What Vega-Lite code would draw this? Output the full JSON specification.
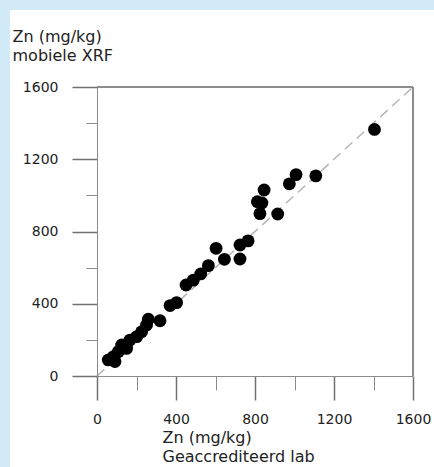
{
  "$schema": "https://vega.github.io/schema/vega-lite/v6.json",
  "width": 316,
  "height": 289,
  "autosize": "none",
  "padding": {"left": 97, "top": 87, "right": 21, "bottom": 91},
  "background": "#d3ebf9",
  "config": {
    "view": {"stroke": null},
    "font": "DejaVu Sans"
  },
  "data": {
    "values": [
      {"lab": 57, "xrf": 89}, {"lab": 91, "xrf": 80}, {"lab": 83, "xrf": 107},
      {"lab": 108, "xrf": 135}, {"lab": 125, "xrf": 172}, {"lab": 150, "xrf": 153},
      {"lab": 167, "xrf": 199}, {"lab": 201, "xrf": 218}, {"lab": 226, "xrf": 245},
      {"lab": 251, "xrf": 282}, {"lab": 260, "xrf": 314}, {"lab": 319, "xrf": 306},
      {"lab": 370, "xrf": 390}, {"lab": 403, "xrf": 406}, {"lab": 451, "xrf": 504},
      {"lab": 488, "xrf": 531}, {"lab": 525, "xrf": 565}, {"lab": 564, "xrf": 611},
      {"lab": 603, "xrf": 707}, {"lab": 645, "xrf": 646}, {"lab": 724, "xrf": 725},
      {"lab": 724, "xrf": 648}, {"lab": 765, "xrf": 748}, {"lab": 812, "xrf": 965},
      {"lab": 835, "xrf": 958}, {"lab": 825, "xrf": 899}, {"lab": 915, "xrf": 897},
      {"lab": 846, "xrf": 1030}, {"lab": 974, "xrf": 1064}, {"lab": 1008, "xrf": 1115},
      {"lab": 1108, "xrf": 1108}, {"lab": 1405, "xrf": 1365}
    ]
  },
  "resolve": {"axis": {"x": "independent", "y": "independent"}},
  "layer": [
    {
      "mark": {"type": "rect", "fill": "white", "clip": false},
      "encoding": {
        "x": {"datum": -440, "type": "quantitative", "scale": {"domain": [0, 1600], "nice": false, "zero": false}, "axis": null},
        "x2": {"datum": 1800},
        "y": {"datum": 2025, "type": "quantitative", "scale": {"domain": [0, 1600], "nice": false, "zero": false}, "axis": null},
        "y2": {"datum": -700}
      }
    },
    {
      "mark": {"type": "rule", "color": "#8c8c8c", "strokeWidth": 1},
      "encoding": {
        "x": {"datum": 1600, "type": "quantitative", "axis": {
            "orient": "bottom", "zindex": 2,
            "values": [200, 600, 1000, 1400],
            "domain": false, "grid": false, "labels": false, "title": null,
            "tickColor": "#8c8c8c", "tickSize": 14
        }},
        "y": {"datum": 0, "type": "quantitative", "axis": {
            "orient": "left", "zindex": 2,
            "values": [200, 600, 1000, 1400],
            "domain": false, "grid": false, "labels": false, "title": null,
            "tickColor": "#8c8c8c", "tickSize": 11
        }},
        "y2": {"datum": 1600}
      }
    },
    {
      "mark": {"type": "rule", "color": "#8c8c8c", "strokeWidth": 1},
      "encoding": {
        "x": {"datum": 0, "type": "quantitative", "axis": {
            "orient": "bottom", "zindex": 2,
            "values": [0, 400, 800, 1200, 1600],
            "domain": false, "grid": false, "labels": false, "title": null,
            "tickColor": "#707070", "tickWidth": 1.5, "tickSize": 24
        }},
        "x2": {"datum": 1600},
        "y": {"datum": 1600, "type": "quantitative", "axis": {
            "orient": "left", "zindex": 2,
            "values": [0, 400, 800, 1200, 1600],
            "domain": false, "grid": false, "labels": false, "title": null,
            "tickColor": "#707070", "tickWidth": 1.5, "tickSize": 25
        }}
      }
    },
    {
      "data": {"values": [{"lab": 0, "xrf": 0}, {"lab": 1600, "xrf": 1600}]},
      "mark": {"type": "line", "color": "#b5b5b5", "strokeWidth": 1.5, "strokeDash": [10, 6]},
      "encoding": {
        "x": {"field": "lab", "type": "quantitative", "axis": null},
        "y": {"field": "xrf", "type": "quantitative", "axis": null}
      }
    },
    {
      "mark": {"type": "point", "filled": true, "color": "black", "opacity": 1, "size": 165},
      "encoding": {
        "x": {
          "field": "lab",
          "type": "quantitative",
          "scale": {"domain": [0, 1600], "nice": false, "zero": false},
          "axis": {
            "orient": "bottom",
            "zindex": 2,
            "values": [0, 400, 800, 1200, 1600],
            "format": "d",
            "grid": false,
            "ticks": false,
            "tickSize": 0,
            "domainColor": "#8c8c8c",
            "labelPadding": 36,
            "labelFontSize": 14,
            "labelColor": "#222",
            "labelFlush": false,
            "labelOverlap": false,
            "title": ["Zn (mg/kg)", "Geaccrediteerd lab"],
            "titleFontSize": 16,
            "titleFontWeight": "normal",
            "titleColor": "#222",
            "titleAlign": "left",
            "titleAnchor": "start",
            "titleBaseline": "alphabetic",
            "titleX": 65,
            "titleY": 66,
            "titleLineHeight": 19
          }
        },
        "y": {
          "field": "xrf",
          "type": "quantitative",
          "scale": {"domain": [0, 1600], "nice": false, "zero": false},
          "axis": {
            "orient": "left",
            "zindex": 2,
            "values": [0, 400, 800, 1200, 1600],
            "format": "d",
            "grid": false,
            "ticks": false,
            "tickSize": 0,
            "domainColor": "#8c8c8c",
            "labelPadding": 39,
            "labelFontSize": 14,
            "labelColor": "#222",
            "labelFlush": false,
            "labelOverlap": false,
            "title": ["Zn (mg/kg)", "mobiele XRF"],
            "titleFontSize": 16,
            "titleFontWeight": "normal",
            "titleColor": "#222",
            "titleAngle": 0,
            "titleAlign": "left",
            "titleAnchor": "start",
            "titleBaseline": "alphabetic",
            "titleX": -85,
            "titleY": -46,
            "titleLineHeight": 19
          }
        }
      }
    }
  ]
}
